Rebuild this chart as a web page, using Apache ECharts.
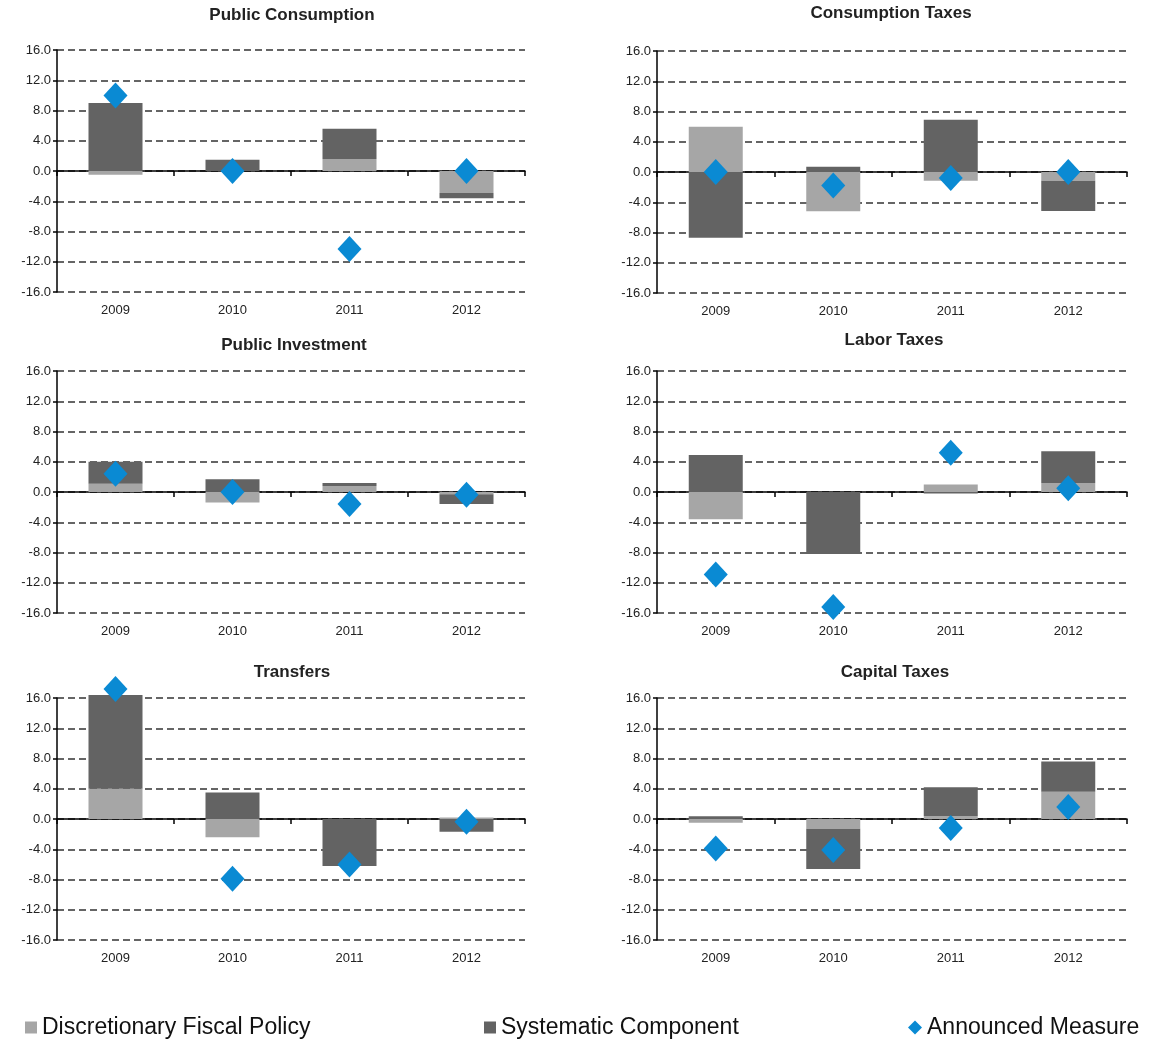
<!DOCTYPE html>
<html>
<head>
<meta charset="utf-8">
<script src="https://cdn.jsdelivr.net/npm/echarts@6/dist/echarts.min.js"></script>
<style>
  html, body { margin: 0; padding: 0; background: #fff; }
  #chart { width: 1151px; height: 1043px; }
</style>
</head>
<body>
<div id="chart"></div>
<script>
var years = ['2009', '2010', '2011', '2012'];

// discretionary (light), systematic (dark), announced (diamond)
var pubConsDisc = [-0.5, 0.0, 1.6, -2.9];
var pubConsSys = [9.0, 1.5, 4.0, -0.7];
var pubConsAnn = [10.0, 0.0, -10.3, 0.0];

var consTaxDisc = [6.0, -5.2, -1.15, -1.15];
var consTaxSys = [-8.7, 0.7, 6.9, -4.0];
var consTaxAnn = [0.0, -1.8, -0.8, 0.0];

var pubInvDisc = [1.1, -1.4, 0.8, -0.3];
var pubInvSys = [2.9, 1.7, 0.4, -1.3];
var pubInvAnn = [2.4, 0.0, -1.6, -0.35];

var laborDisc = [-3.6, 0.0, 1.0, 1.2];
var laborSys = [4.9, -8.2, -0.2, 4.2];
var laborAnn = [-10.9, -15.2, 5.2, 0.5];

var transDisc = [4.0, -2.4, 0.0, 0.2];
var transSys = [12.4, 3.5, -6.2, -1.7];
var transAnn = [17.2, -7.9, -6.0, -0.35];

var capDisc = [-0.5, -1.3, 0.4, 3.6];
var capSys = [0.35, -5.3, 3.8, 4.0];
var capAnn = [-3.9, -4.1, -1.2, 1.6];

var panelTitles = ['Public Consumption', 'Consumption Taxes', 'Public Investment',
                   'Labor Taxes', 'Transfers', 'Capital Taxes'];
var panels = [
  [pubConsDisc, pubConsSys, pubConsAnn],
  [consTaxDisc, consTaxSys, consTaxAnn],
  [pubInvDisc, pubInvSys, pubInvAnn],
  [laborDisc, laborSys, laborAnn],
  [transDisc, transSys, transAnn],
  [capDisc, capSys, capAnn]
];

var yTicksMin = -16, yTicksMax = 16, yStep = 4;

// layout of each panel: plot left, top, width, title top
var boxes = [
  { left: 57, top: 50, width: 468, titleTop: 2, titleX: 287 },
  { left: 657, top: 51, width: 470, titleTop: 0, titleX: 886 },
  { left: 57, top: 371, width: 468, titleTop: 332, titleX: 289 },
  { left: 657, top: 371, width: 470, titleTop: 327, titleX: 889 },
  { left: 57, top: 698, width: 468, titleTop: 659, titleX: 287 },
  { left: 657, top: 698, width: 470, titleTop: 659, titleX: 890 }
];
var plotH = 242;

var lightGrey = '#a6a6a6';
var darkGrey = '#636363';
var blue = '#0a8ad3';

var grids = [], xAxes = [], yAxes = [], series = [], titles = [];

boxes.forEach(function (b, i) {
  grids.push({ left: b.left, top: b.top, width: b.width, height: plotH });
  titles.push({
    text: panelTitles[i],
    left: b.titleX,
    top: b.titleTop,
    textAlign: 'center',
    textStyle: { fontFamily: 'Liberation Sans', fontSize: 17, fontWeight: 'bold', color: '#222' }
  });
  // labels at bottom
  xAxes.push({
    type: 'category', gridIndex: i, data: years, position: 'bottom',
    axisLine: { show: false, onZero: false }, axisTick: { show: false },
    axisLabel: { fontFamily: 'Liberation Sans', fontSize: 13, color: '#222', margin: 12 }
  });
  // zero line with ticks
  xAxes.push({
    type: 'category', gridIndex: i, data: years, position: 'top',
    axisLine: { show: true, onZero: true, lineStyle: { color: '#000', width: 1.5 } },
    axisTick: { show: true, length: 5, inside: true, lineStyle: { color: '#000', width: 1.5 } },
    axisLabel: { show: false }
  });
  yAxes.push({
    type: 'value', gridIndex: i, min: yTicksMin, max: yTicksMax, interval: yStep,
    axisLine: { show: true, lineStyle: { color: '#000', width: 1.5 } },
    axisTick: { show: true, length: 4, lineStyle: { color: '#000', width: 1.5 } },
    axisLabel: {
      fontFamily: 'Liberation Sans', fontSize: 13, color: '#222', margin: 6,
      formatter: function (v) { return v.toFixed(1); }
    },
    splitLine: { show: true, lineStyle: { color: '#333', width: 1.5, type: [7, 4] } }
  });
  var d = panels[i];
  series.push({
    name: 'Discretionary Fiscal Policy', type: 'bar', xAxisIndex: 2 * i, yAxisIndex: i,
    stack: 'p' + i, data: d[0], barWidth: 54, clip: false,
    itemStyle: { color: lightGrey }, z: 3
  });
  series.push({
    name: 'Systematic Component', type: 'bar', xAxisIndex: 2 * i, yAxisIndex: i,
    stack: 'p' + i, data: d[1], barWidth: 54, clip: false,
    itemStyle: { color: darkGrey }, z: 3
  });
  series.push({
    name: 'Announced Measure', type: 'scatter', xAxisIndex: 2 * i, yAxisIndex: i,
    data: d[2], symbol: 'diamond', symbolSize: [24, 26], clip: false,
    itemStyle: { color: blue, opacity: 1 }, z: 5
  });
});

var legendText = { fontFamily: 'Liberation Sans', fontSize: 23, color: '#111' };

var chart = echarts.init(document.getElementById('chart'));
chart.setOption({
  backgroundColor: '#fff',
  animation: false,
  title: titles,
  legend: [
    { data: [{ name: 'Discretionary Fiscal Policy', icon: 'rect' }], left: 20, top: 1011,
      itemWidth: 12, itemHeight: 12, itemGap: 4, textStyle: legendText },
    { data: [{ name: 'Systematic Component', icon: 'rect' }], left: 479, top: 1011,
      itemWidth: 12, itemHeight: 12, itemGap: 4, textStyle: legendText },
    { data: [{ name: 'Announced Measure', icon: 'diamond' }], left: 903, top: 1011,
      itemWidth: 14, itemHeight: 14, itemGap: 2, textStyle: legendText }
  ],
  grid: grids,
  xAxis: xAxes,
  yAxis: yAxes,
  series: series
});
</script>
</body>
</html>
